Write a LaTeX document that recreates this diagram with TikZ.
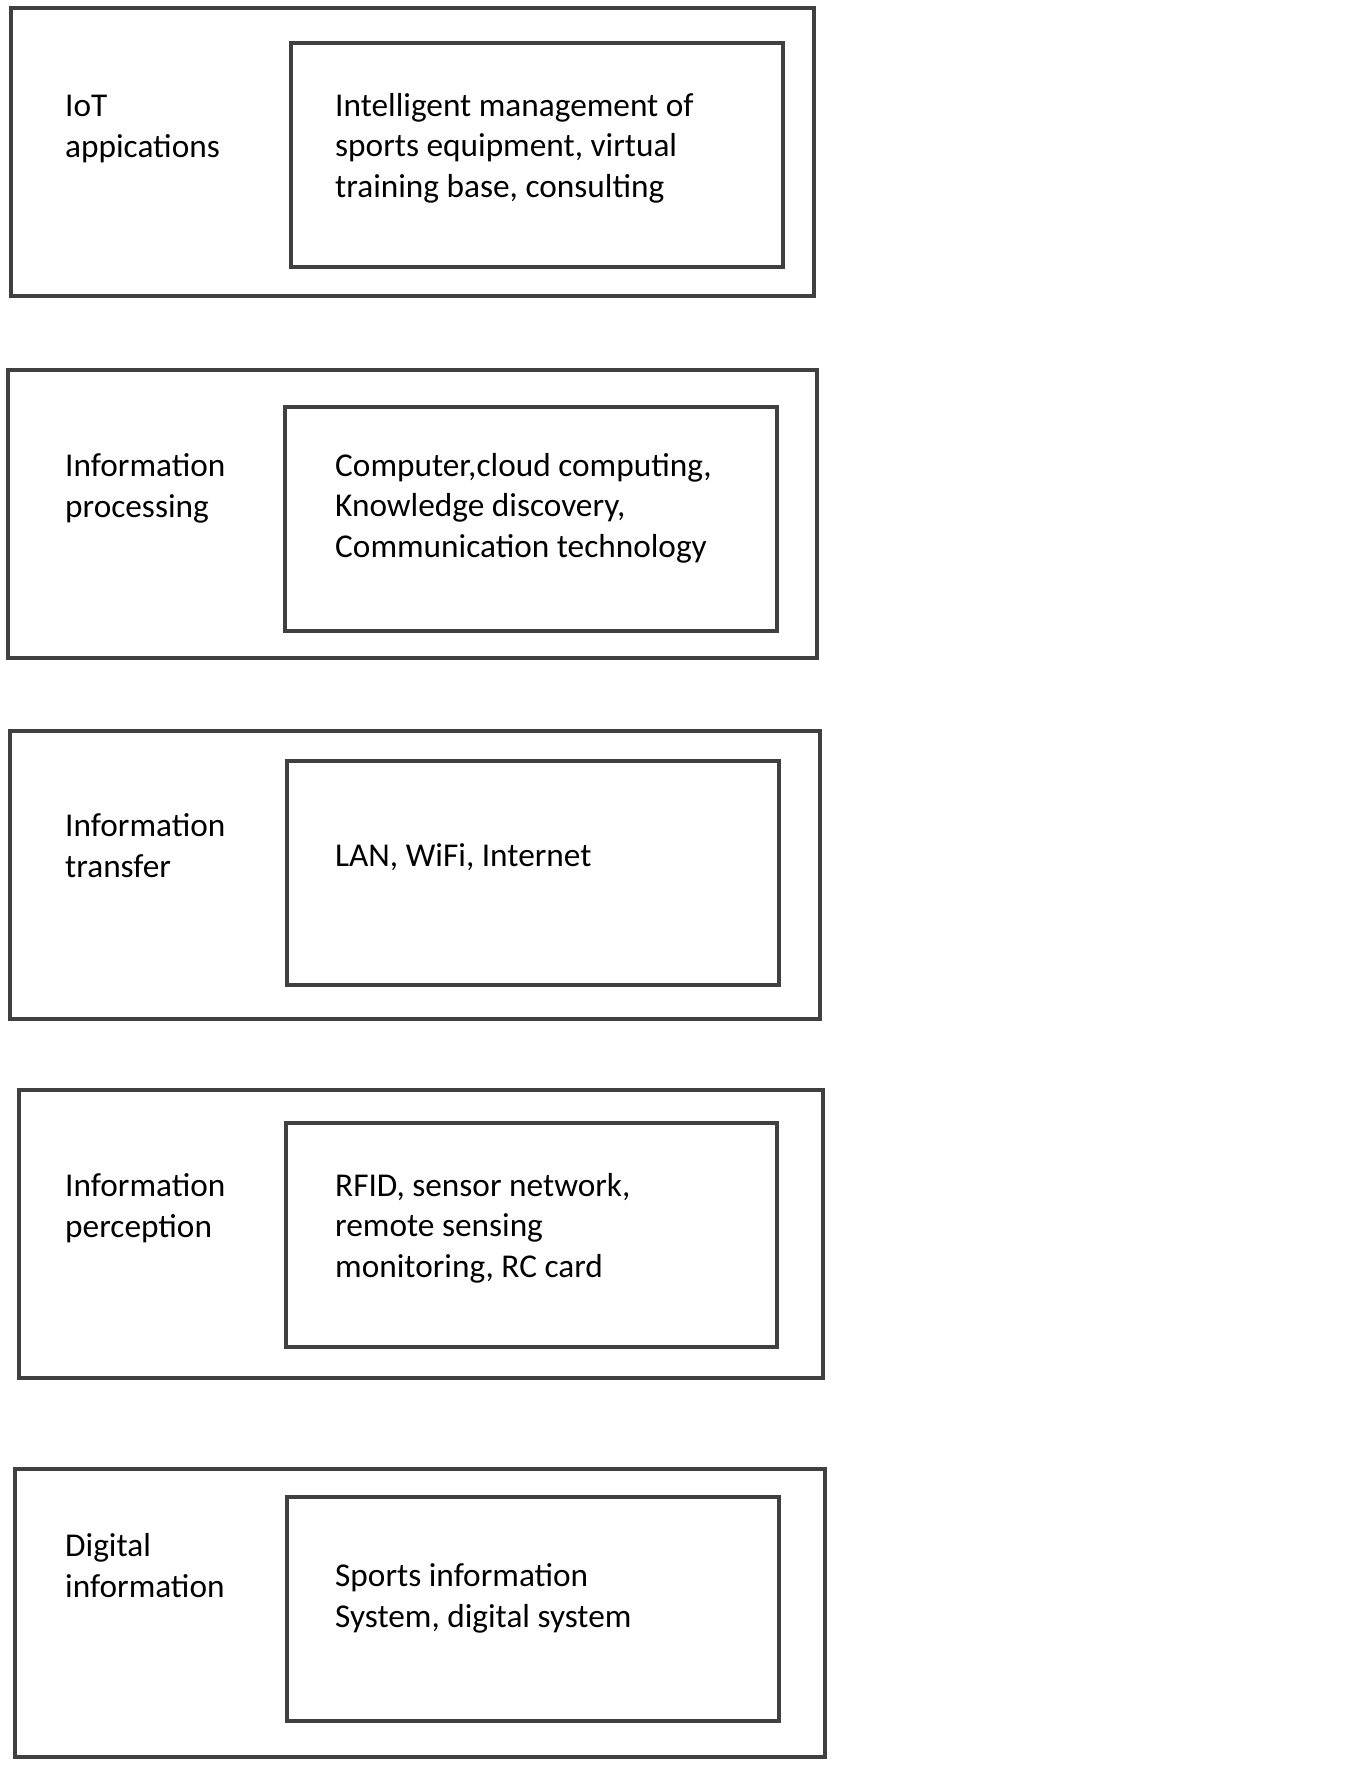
\documentclass[tikz,border=0pt]{standalone}
\usepackage{fontspec}
\setmainfont{Carlito}
\usepackage{tikz}
\usetikzlibrary{positioning}
\definecolor{framegray}{RGB}{64,64,64}
\tikzset{
  layerbox/.style={rectangle, draw=framegray, line width=3.8pt, anchor=north west,
    minimum width=805pt, minimum height=288pt, inner sep=0pt, outer sep=0pt},
  techbox/.style={rectangle, draw=framegray, line width=3.8pt, anchor=north west,
    minimum width=492pt, minimum height=224pt, inner sep=0pt, outer sep=0pt},
  label/.style={anchor=base west, align=left, inner sep=0pt,
    font=\fontsize{33.3}{40.5}\selectfont},
}
\begin{document}
\begin{tikzpicture}[x=1pt, y=-1pt]
  \useasboundingbox (0,0) rectangle (1355,1765);
  % layers, top to bottom (labels sit on their last baseline)
  \node[layerbox, minimum width=803pt] (apps) at (11,8) {};
  \node[techbox] (appsin) at (291,43) {};
  \node[label] (appsname) at (65,157) {IoT\\appications};
  \node[label] (appstech) at (335,197)
    {Intelligent management of\\sports equipment, virtual\\training base, consulting};

  \node[layerbox, minimum width=809pt] (proc) at (8,370) {};
  \node[techbox] (procin) at (285,407) {};
  \node[label] (procname) at (65,517) {Information\\processing};
  \node[label] (proctech) at (335,557)
    {Computer,cloud computing,\\Knowledge discovery,\\Communication technology};

  \node[layerbox, minimum width=810pt] (trans) at (10,731) {};
  \node[techbox] (transin) at (287,761) {};
  \node[label] (transname) at (65,877) {Information\\transfer};
  \node[label] (transtech) at (335,866) {LAN, WiFi, Internet};

  \node[layerbox, minimum width=804pt] (perc) at (19,1090) {};
  \node[techbox, minimum width=491pt] (percin) at (286,1123) {};
  \node[label] (percname) at (65,1237) {Information\\perception};
  \node[label] (perctech) at (335,1277)
    {RFID, sensor network,\\remote sensing\\monitoring, RC card};

  \node[layerbox, minimum width=810pt] (digi) at (15,1469) {};
  \node[techbox] (digiin) at (287,1497) {};
  \node[label] (diginame) at (65,1597) {Digital\\information};
  \node[label] (digitech) at (335,1627) {Sports information\\System, digital system};
\end{tikzpicture}
\end{document}
